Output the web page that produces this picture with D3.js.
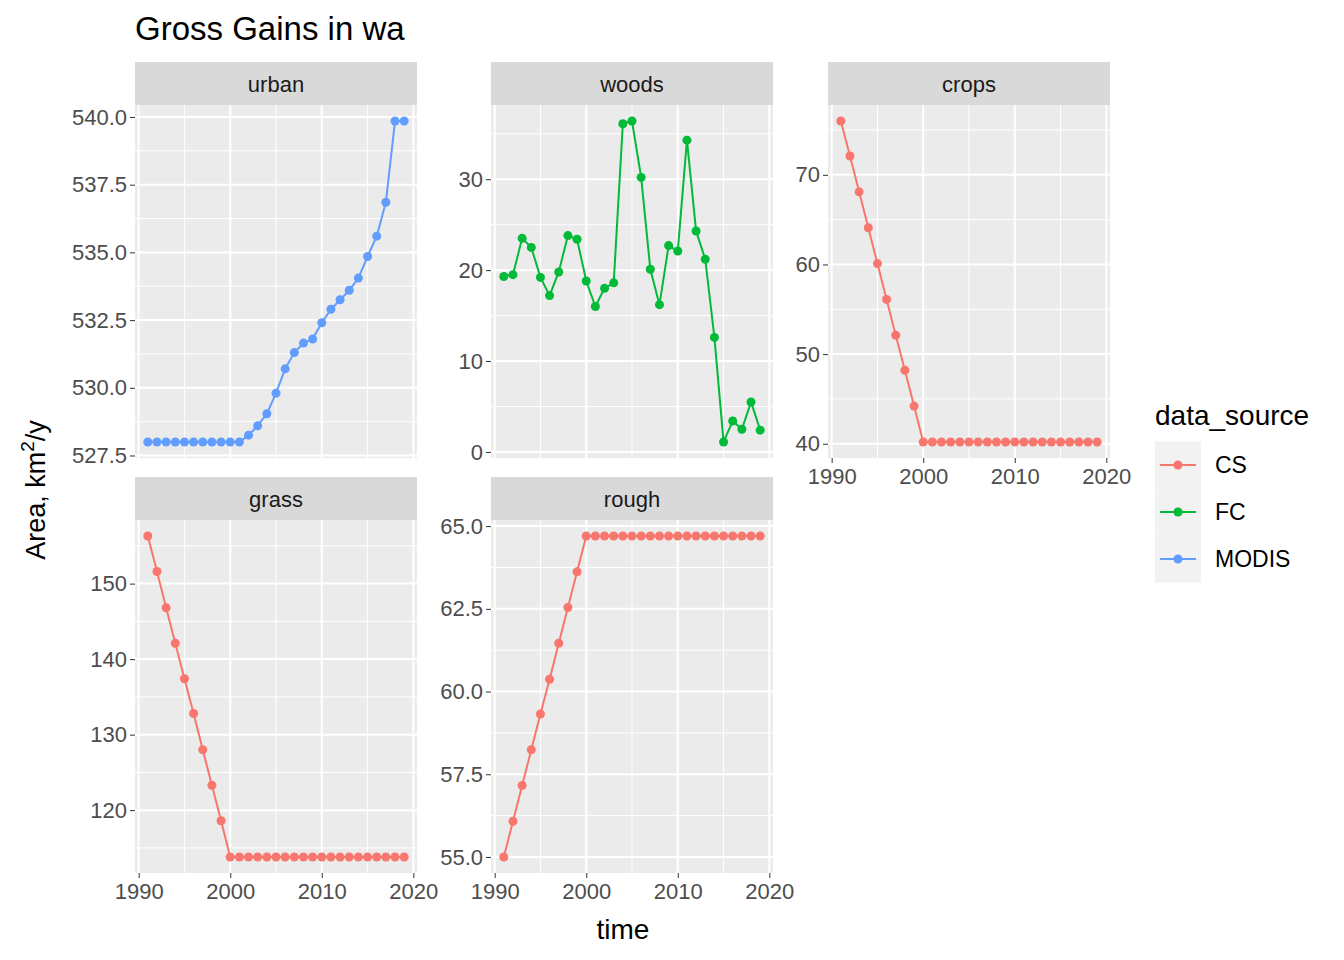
<!DOCTYPE html>
<html><head><meta charset="utf-8">
<script src="https://cdnjs.cloudflare.com/ajax/libs/d3/7.8.5/d3.min.js"></script>
<style>body{margin:0;background:#fff;font-family:Arial,"Liberation Sans",sans-serif}</style>
</head><body><svg id="c" width="1344" height="960"></svg>
<script>
var years = d3.range(1991, 2020);
var urban = [528,528,528,528,528,528,528,528,528,528,528,528.25,528.6,529.04,529.8,530.7,531.3,531.65,531.8,532.4,532.9,533.25,533.6,534.05,534.85,535.6,536.85,539.85,539.85];
var woods = [19.3,19.5,23.5,22.5,19.2,17.2,19.8,23.8,23.4,18.8,16.0,18.0,18.6,36.1,36.4,30.2,20.1,16.2,22.7,22.1,34.3,24.3,21.2,12.6,1.1,3.4,2.5,5.5,2.4];
var crops = [76,72.1,68.1,64.1,60.1,56.1,52.1,48.2,44.2,40.2,40.2,40.2,40.2,40.2,40.2,40.2,40.2,40.2,40.2,40.2,40.2,40.2,40.2,40.2,40.2,40.2,40.2,40.2,40.2];
var grass = [156.3,151.6,146.8,142.1,137.4,132.8,128.0,123.3,118.6,113.8,113.8,113.8,113.8,113.8,113.8,113.8,113.8,113.8,113.8,113.8,113.8,113.8,113.8,113.8,113.8,113.8,113.8,113.8,113.8];
var rough = [55.0,56.08,57.16,58.24,59.32,60.37,61.46,62.54,63.62,64.7,64.7,64.7,64.7,64.7,64.7,64.7,64.7,64.7,64.7,64.7,64.7,64.7,64.7,64.7,64.7,64.7,64.7,64.7,64.7];
var sources = ['CS','FC','MODIS'];
var colors = ['#F8766D','#00BA38','#619CFF'];
var xTicks = [1990,2000,2010,2020];

var panels = [
  {name:'urban', vals:urban, src:'MODIS', x:135, y:62, ticks:[527.5,530,532.5,535,537.5,540], fmt:'.1f'},
  {name:'woods', vals:woods, src:'FC', x:491, y:62, ticks:[0,10,20,30], fmt:'d'},
  {name:'crops', vals:crops, src:'CS', x:828, y:62, ticks:[40,50,60,70], fmt:'d', xaxis:true},
  {name:'grass', vals:grass, src:'CS', x:135, y:477, ticks:[120,130,140,150], fmt:'d', xaxis:true},
  {name:'rough', vals:rough, src:'CS', x:491, y:477, ticks:[55,57.5,60,62.5,65], fmt:'.1f', xaxis:true}
];
var W = 282, SH = 43, PH = 353;
var svg = d3.select('#c');
var x = d3.scaleLinear().domain([1989.6, 2020.4]).range([0, W]);

panels.forEach(function(p) {
  var g = svg.append('g').attr('transform', 'translate(' + p.x + ',' + p.y + ')');
  g.append('rect').attr('width', W).attr('height', SH).attr('fill', '#D9D9D9');
  g.append('text').attr('x', W/2).attr('y', SH/2 + 8).attr('text-anchor', 'middle')
    .attr('font-size', 22).attr('fill', '#1a1a1a').text(p.name);
  var pg = g.append('g').attr('transform', 'translate(0,' + SH + ')');
  var ext = d3.extent(p.vals), pad = (ext[1] - ext[0]) * 0.05;
  var y = d3.scaleLinear().domain([ext[0] - pad, ext[1] + pad]).range([PH, 0]);
  pg.append('rect').attr('width', W).attr('height', PH).attr('fill', '#EBEBEB');
  var minor = [];
  for (var i = 0; i < p.ticks.length - 1; i++) minor.push((p.ticks[i] + p.ticks[i+1]) / 2);
  var st = p.ticks[1] - p.ticks[0];
  minor.push(p.ticks[0] - st/2, p.ticks[p.ticks.length-1] + st/2);
  minor.forEach(function(v) {
    if (y(v) < 0 || y(v) > PH) return;
    pg.append('line').attr('x1', 0).attr('x2', W).attr('y1', y(v)).attr('y2', y(v)).attr('stroke', '#fff').attr('stroke-width', 1);
  });
  [1995,2005,2015].forEach(function(v) {
    pg.append('line').attr('x1', x(v)).attr('x2', x(v)).attr('y1', 0).attr('y2', PH).attr('stroke', '#fff').attr('stroke-width', 1);
  });
  p.ticks.forEach(function(v) {
    pg.append('line').attr('x1', 0).attr('x2', W).attr('y1', y(v)).attr('y2', y(v)).attr('stroke', '#fff').attr('stroke-width', 2);
  });
  xTicks.forEach(function(v) {
    pg.append('line').attr('x1', x(v)).attr('x2', x(v)).attr('y1', 0).attr('y2', PH).attr('stroke', '#fff').attr('stroke-width', 2);
  });
  var yAxis = d3.axisLeft(y).tickValues(p.ticks).tickFormat(d3.format(p.fmt)).tickSize(5).tickPadding(3);
  var ya = pg.append('g').call(yAxis);
  ya.select('.domain').remove();
  ya.selectAll('line').attr('stroke', '#333');
  ya.selectAll('text').attr('font-size', 22).attr('fill', '#4D4D4D').attr('font-family', 'Arial,Liberation Sans,sans-serif');
  if (p.xaxis) {
    var xa = pg.append('g').attr('transform', 'translate(0,' + PH + ')')
      .call(d3.axisBottom(x).tickValues(xTicks).tickFormat(d3.format('d')).tickSize(5).tickPadding(5));
    xa.select('.domain').remove();
    xa.selectAll('line').attr('stroke', '#333');
    xa.selectAll('text').attr('font-size', 22).attr('fill', '#4D4D4D').attr('font-family', 'Arial,Liberation Sans,sans-serif');
  }
  var col = colors[sources.indexOf(p.src)];
  var line = d3.line().x(function(d, i) { return x(years[i]); }).y(function(d) { return y(d); });
  pg.append('path').datum(p.vals).attr('d', line).attr('fill', 'none').attr('stroke', col).attr('stroke-width', 2);
  pg.selectAll('circle').data(p.vals).enter().append('circle')
    .attr('cx', function(d, i) { return x(years[i]); }).attr('cy', function(d) { return y(d); })
    .attr('r', 4.5).attr('fill', col);
});

svg.append('text').attr('x', 135).attr('y', 40).attr('font-size', 33).attr('fill', '#000').text('Gross Gains in wa');
svg.append('text').attr('x', 623).attr('y', 939).attr('text-anchor', 'middle').attr('font-size', 28).text('time');
svg.append('text').attr('transform', 'translate(45,490) rotate(-90)').attr('text-anchor', 'middle').attr('font-size', 27)
  .html('Area,  km<tspan dy="-11" font-size="19">2</tspan><tspan dy="11">/y</tspan>');

var lg = svg.append('g').attr('transform', 'translate(1155,0)');
lg.append('text').attr('x', 0).attr('y', 425).attr('font-size', 28).text('data_source');
sources.forEach(function(s, i) {
  var cy = 465 + i * 47;
  lg.append('rect').attr('x', 0).attr('y', cy - 23.5).attr('width', 46).attr('height', 47).attr('fill', '#F2F2F2');
  lg.append('line').attr('x1', 5).attr('x2', 41).attr('y1', cy).attr('y2', cy).attr('stroke', colors[i]).attr('stroke-width', 2);
  lg.append('circle').attr('cx', 23).attr('cy', cy).attr('r', 4.5).attr('fill', colors[i]);
  lg.append('text').attr('x', 60).attr('y', cy + 8).attr('font-size', 23).text(s);
});
</script></body></html>
